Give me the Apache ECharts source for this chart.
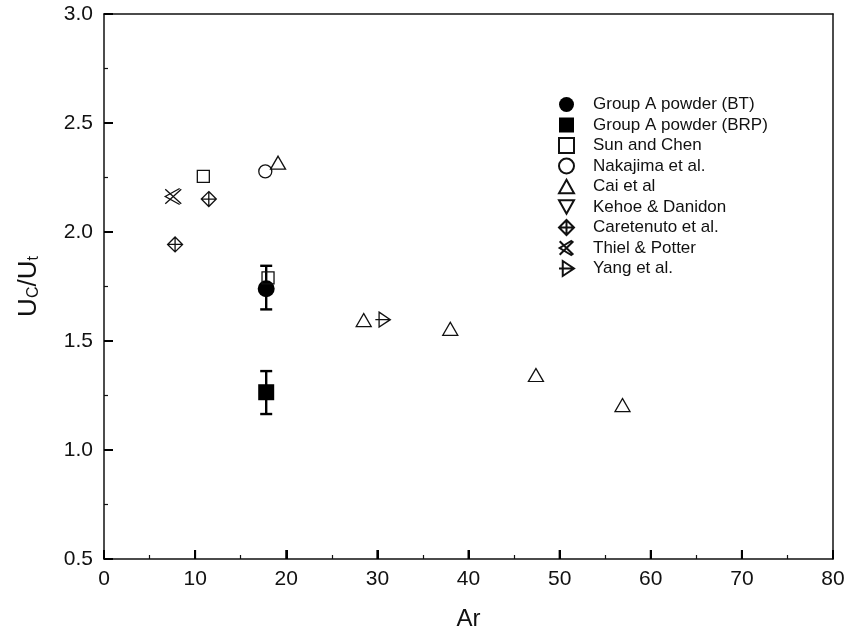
<!DOCTYPE html>
<html>
<head>
<meta charset="utf-8">
<script src="https://cdn.jsdelivr.net/npm/echarts@6/dist/echarts.min.js"></script>
<style>html,body{margin:0;padding:0;background:#fff}#c{width:851px;height:643px}</style>
</head>
<body>
<div id="c"></div>
<script>
// ---- data ----
var btX = [17.8], btY = [1.74], btErrLow = [1.645], btErrHigh = [1.845];
var brpX = [17.8], brpY = [1.265], brpErrLow = [1.165], brpErrHigh = [1.362];
var sunX = [10.9, 18.0], sunY = [2.255, 1.79];
var nakX = [17.7], nakY = [2.278];
var caiX = [19.1, 28.5, 38.0, 47.4, 56.9], caiY = [2.318, 1.596, 1.556, 1.344, 1.206];
var kehX = [], kehY = [];
var carX = [11.5, 7.8], carY = [2.151, 1.943];
var thiX = [7.6], thiY = [2.163];
var yanX = [30.6], yanY = [1.598];
var xTicks = [0, 10, 20, 30, 40, 50, 60, 70, 80];
var yTicks = [0.5, 1.0, 1.5, 2.0, 2.5, 3.0];

function pts(xs, ys) { return xs.map(function (x, i) { return [x, ys[i]]; }); }
var xMin = xTicks[0], xMax = xTicks[xTicks.length - 1];
var yMin = yTicks[0], yMax = yTicks[yTicks.length - 1];

var FONT = '"Liberation Sans", Arial, sans-serif';
var SYM = {
  tri: 'path://M0,-1 L1,0.8 L-1,0.8 Z',
  itri: 'path://M-1,-0.8 L1,-0.8 L0,1 Z',
  cdia: 'path://M0,-1 L1,0 L0,1 L-1,0 Z M-1,0 L1,0 M0,-1 L0,1',
  thiel: 'path://M-1,-1 L1,1 M-1,1 L1,-1 M0.8,-1.1 L-1,0 L0.8,1.1',
  yang: 'path://M-0.5,-1 L1,0 L-0.5,1 Z M-1,0 L1,0'
};
var open = { color: 'rgba(255,255,255,0)', borderColor: '#111', borderWidth: 1.3, opacity: 1 };
var solid = { color: '#000', opacity: 1 };
function lineSt() { return { color: '#111', width: 1.5 }; }

function errSeries(name, xs, lo, hi) {
  return {
    name: name + '_err', type: 'custom', silent: true, z: 1,
    data: xs.map(function (x, i) { return [x, lo[i], hi[i]]; }),
    renderItem: function (params, api) {
      var p1 = api.coord([api.value(0), api.value(1)]);
      var p2 = api.coord([api.value(0), api.value(2)]);
      var w = 6;
      var st = { stroke: '#000', lineWidth: 2.4 };
      return {
        type: 'group', children: [
          { type: 'line', shape: { x1: p1[0], y1: p1[1], x2: p2[0], y2: p2[1] }, style: st },
          { type: 'line', shape: { x1: p1[0] - w, y1: p1[1], x2: p1[0] + w, y2: p1[1] }, style: st },
          { type: 'line', shape: { x1: p2[0] - w, y1: p2[1], x2: p2[0] + w, y2: p2[1] }, style: st }
        ]
      };
    }
  };
}

// major tick marks (inward), placed through the axis scales
function tickSeries(name, values, isX) {
  return {
    name: name, type: 'custom', silent: true, z: 10, clip: false,
    data: values.map(function (v) { return isX ? [v, yMin] : [xMin, v]; }),
    renderItem: function (params, api) {
      var p = api.coord([api.value(0), api.value(1)]);
      var L = 9;
      var shape = isX ? { x1: p[0], y1: p[1], x2: p[0], y2: p[1] - L }
                      : { x1: p[0], y1: p[1], x2: p[0] + L, y2: p[1] };
      return { type: 'line', shape: shape, style: { stroke: '#000', lineWidth: 2 } };
    }
  };
}

function frameAxis(pos, min, max, interval) {
  return {
    type: 'value', position: pos, min: min, max: max, interval: interval,
    axisLine: { show: true, onZero: false, lineStyle: lineSt() },
    axisTick: { show: false }, axisLabel: { show: false }, splitLine: { show: false }
  };
}

var chart = echarts.init(document.getElementById('c'));
chart.setOption({
  animation: false,
  backgroundColor: '#fff',
  grid: { left: 104, right: 18, top: 14, bottom: 84, containLabel: false, outerBoundsMode: 'none' },
  xAxis: [{
    type: 'value', position: 'bottom', min: xMin, max: xMax, interval: 10,
    name: 'Ar', nameLocation: 'middle', nameGap: 48,
    nameTextStyle: { fontFamily: FONT, fontSize: 24, color: '#111' },
    axisLine: { show: true, onZero: false, lineStyle: lineSt() },
    axisTick: { show: true, inside: true, length: 9, lineStyle: { color: '#000', width: 2 } },
    minorTick: { show: true, splitNumber: 2, length: 4, lineStyle: { color: '#111', width: 1.2 } },
    axisLabel: { fontFamily: FONT, fontSize: 21, color: '#111', margin: 10 },
    splitLine: { show: false }
  }, frameAxis('top', xMin, xMax, 10)],
  yAxis: [{
    type: 'value', position: 'left', min: yMin, max: yMax, interval: 0.5,
    name: '{a|U}{b|C}{a|/U}{b|t}', nameLocation: 'middle', nameGap: 62,
    nameTextStyle: {
      fontFamily: FONT, color: '#111',
      rich: {
        a: { fontFamily: FONT, fontSize: 26, color: '#111', lineHeight: 30, verticalAlign: 'bottom' },
        b: { fontFamily: FONT, fontSize: 16, color: '#111', lineHeight: 30, verticalAlign: 'bottom', padding: [12, 0, 0, 0] }
      }
    },
    axisLine: { show: true, onZero: false, lineStyle: lineSt() },
    axisTick: { show: true, inside: true, length: 9, lineStyle: { color: '#000', width: 2 } },
    minorTick: { show: true, splitNumber: 2, length: 4, lineStyle: { color: '#111', width: 1.2 } },
    axisLabel: { fontFamily: FONT, fontSize: 21, color: '#111', margin: 11, formatter: function (v) { return v.toFixed(1); } },
    splitLine: { show: false }
  }, frameAxis('right', yMin, yMax, 0.5)],
  legend: {
    orient: 'vertical', left: 553, top: 91, itemGap: 3.5, itemWidth: 15, itemHeight: 15,
    textStyle: { fontFamily: FONT, fontSize: 17, color: '#111', padding: [0, 0, 0, 14] },
    data: ['Group A powder (BT)', 'Group A powder (BRP)', 'Sun and Chen', 'Nakajima et al.', 'Cai et al',
      'Kehoe & Danidon', 'Caretenuto et al.', 'Thiel & Potter', 'Yang et al.']
  },
  series: [
    tickSeries('xticks', xTicks, true),
    tickSeries('yticks', yTicks, false),
    errSeries('bt', btX, btErrLow, btErrHigh),
    errSeries('brp', brpX, brpErrLow, brpErrHigh),
    { name: 'Group A powder (BT)', type: 'scatter', symbol: 'circle', symbolSize: 17, z: 3,
      itemStyle: solid, data: pts(btX, btY) },
    { name: 'Group A powder (BRP)', type: 'scatter', symbol: 'rect', symbolSize: 16, z: 3,
      itemStyle: solid, data: pts(brpX, brpY) },
    { name: 'Sun and Chen', type: 'scatter', symbol: 'rect', symbolSize: 12, z: 4,
      itemStyle: open, data: pts(sunX, sunY) },
    { name: 'Nakajima et al.', type: 'scatter', symbol: 'circle', symbolSize: 13, z: 4,
      itemStyle: open, data: pts(nakX, nakY) },
    { name: 'Cai et al', type: 'scatter', symbol: SYM.tri, symbolSize: [15, 13], z: 4,
      itemStyle: open, data: pts(caiX, caiY) },
    { name: 'Kehoe & Danidon', type: 'scatter', symbol: SYM.itri, symbolSize: [15, 13], z: 4,
      itemStyle: open, data: pts(kehX, kehY) },
    { name: 'Caretenuto et al.', type: 'scatter', symbol: SYM.cdia, symbolSize: 15, z: 4,
      itemStyle: open, data: pts(carX, carY) },
    { name: 'Thiel & Potter', type: 'scatter', symbol: SYM.thiel, symbolSize: 16, z: 4,
      itemStyle: open, data: pts(thiX, thiY) },
    { name: 'Yang et al.', type: 'scatter', symbol: SYM.yang, symbolSize: 15, z: 4,
      itemStyle: open, data: pts(yanX, yanY) }
  ]
});
</script>
</body>
</html>
